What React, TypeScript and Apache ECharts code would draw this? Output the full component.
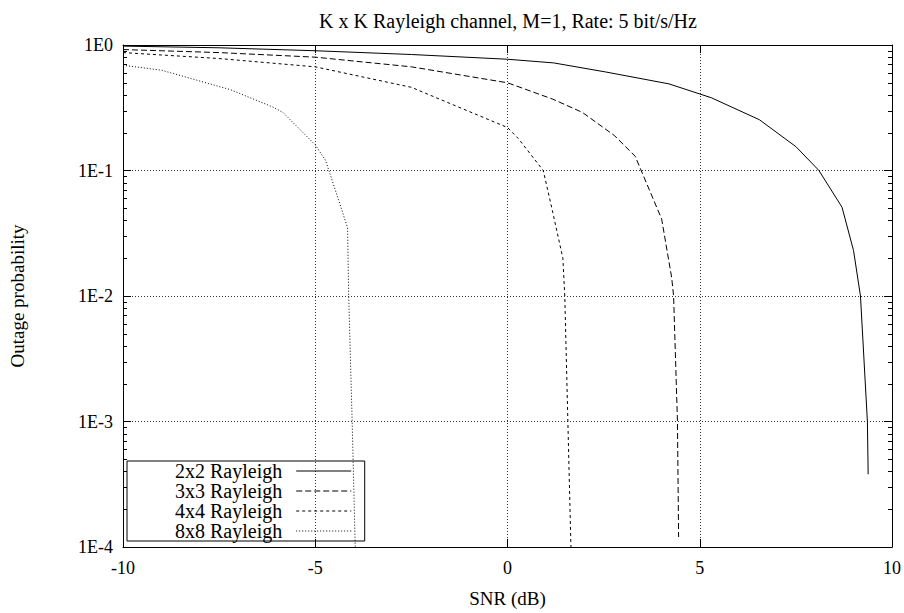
import React, { useEffect, useRef } from "react";
import * as echarts from "echarts";

const seriesNames = ["2x2 Rayleigh", "3x3 Rayleigh", "4x4 Rayleigh", "8x8 Rayleigh"];

const snr2x2 = [-10, -7.5, -5, -2.5, 0, 1.2, 2.55, 4.2, 5.3, 6.55, 7.5, 8.1, 8.7, 9.0, 9.18, 9.36, 9.38];
const out2x2 = [0.98, 0.95, 0.9, 0.84, 0.77, 0.72, 0.61, 0.49, 0.38, 0.254, 0.155, 0.1, 0.051, 0.023, 0.01, 0.001, 0.00038];

const snr3x3 = [-10, -7.5, -5, -2.5, 0, 1.18, 1.95, 2.78, 3.32, 4.01, 4.27, 4.32, 4.42, 4.45];
const out3x3 = [0.92, 0.87, 0.8, 0.67, 0.5, 0.37, 0.29, 0.19, 0.13, 0.041, 0.014, 0.01, 0.001, 0.00012];

const snr4x4 = [-10, -7.5, -5, -2.5, 0, 0.28, 0.93, 1.18, 1.44, 1.49, 1.57, 1.65];
const out4x4 = [0.87, 0.78, 0.67, 0.46, 0.22, 0.18, 0.1, 0.046, 0.02, 0.01, 0.001, 0.0001];

const snr8x8 = [-10, -9, -7.2, -6.1, -5.84, -5, -4.73, -4.4, -4.16, -4.13, -4.04, -3.96];
const out8x8 = [0.69, 0.63, 0.44, 0.32, 0.29, 0.16, 0.12, 0.059, 0.035, 0.01, 0.001, 0.0001];

const xTicks = [-10, -5, 0, 5, 10];
const yMin = 1e-4;
const yMax = 1;
const minorTickValues: number[] = [];
for (let e = -4; e < 0; e++) {
  for (let m = 2; m <= 9; m++) {
    minorTickValues.push(m * Math.pow(10, e));
  }
}

const zip = (xs: number[], ys: number[]) => xs.map((x, i) => [x, ys[i]]);

const FONT = "'Liberation Serif', 'Times New Roman', serif";

export default function App() {
  const ref = useRef<HTMLDivElement>(null);
  useEffect(() => {
    document.body.style.margin = "0";
    if (!ref.current) return;
    const chart = echarts.init(ref.current, undefined, { renderer: "svg" });
    const dashes: any[] = ["solid", [6, 3], [3, 3], [1, 2]];
    const dataSets = [
      zip(snr2x2, out2x2),
      zip(snr3x3, out3x3),
      zip(snr4x4, out4x4),
      zip(snr8x8, out8x8),
    ];
    const lineSeries = seriesNames.map((name, i) => ({
      name,
      type: "line",
      data: dataSets[i],
      symbol: "none",
      showSymbol: false,
      lineStyle: { color: "#000", width: 1, type: dashes[i] },
      itemStyle: { color: "#000" },
      z: 5,
    }));
    const axisCommon = {
      axisLine: { show: true, onZero: false, lineStyle: { color: "#000", width: 1 } },
      axisTick: { show: true, inside: true, length: 8, lineStyle: { color: "#000" } },
    };
    const option: any = {
      animation: false,
      backgroundColor: "#fff",
      title: {
        text: "K x K Rayleigh channel, M=1, Rate: 5 bit/s/Hz",
        left: 503,
        top: 6,
        textAlign: "center",
        textStyle: { fontFamily: FONT, fontSize: 20, fontWeight: "normal", color: "#000" },
      },
      grid: { left: 115, right: 11, top: 45, bottom: 63, containLabel: false },
      legend: {
        data: seriesNames,
        orient: "vertical",
        align: "right",
        left: 127,
        top: 461,
        itemWidth: 55,
        itemHeight: 10,
        itemGap: 0,
        padding: [0, 13, 0, 48],
        borderColor: "#000",
        borderWidth: 1,
        itemStyle: { opacity: 0, color: "rgba(0,0,0,0)", borderWidth: 0 },
        lineStyle: { width: 1 },
        textStyle: { fontFamily: FONT, fontSize: 20, color: "#000", lineHeight: 20, padding: [0, 9, 0, 0] },
      },
      xAxis: [
        {
          type: "value",
          min: -10,
          max: 10,
          interval: 5,
          name: "SNR (dB)",
          nameLocation: "middle",
          nameGap: 42,
          nameTextStyle: { fontFamily: FONT, fontSize: 19, color: "#000" },
          ...axisCommon,
          axisLabel: { fontFamily: FONT, fontSize: 18, color: "#000", margin: 12, formatter: (v: number) => (xTicks.includes(v) ? String(v) : "") },
          splitLine: { show: true, lineStyle: { color: "#333", width: 1, type: [1, 2] } },
        },
        {
          type: "value",
          position: "top",
          min: -10,
          max: 10,
          interval: 5,
          ...axisCommon,
          axisLabel: { show: false },
          splitLine: { show: false },
        },
      ],
      yAxis: [
        {
          type: "log",
          logBase: 10,
          min: yMin,
          max: yMax,
          name: "Outage probability",
          nameLocation: "middle",
          nameGap: 96,
          nameRotate: 90,
          nameTextStyle: { fontFamily: FONT, fontSize: 19, color: "#000" },
          ...axisCommon,
          axisLabel: {
            fontFamily: FONT,
            fontSize: 18,
            color: "#000",
            margin: 10,
            formatter: (v: number) => "1E" + Math.round(Math.log10(v)),
          },
          splitLine: { show: true, lineStyle: { color: "#333", width: 1, type: [1, 2] } },
        },
        {
          type: "log",
          logBase: 10,
          min: yMin,
          max: yMax,
          position: "right",
          ...axisCommon,
          axisLabel: { show: false },
          splitLine: { show: false },
        },
      ],
      series: [
        ...lineSeries,
        {
          type: "custom",
          silent: true,
          data: minorTickValues.map((v) => [-10, v]),
          encode: { x: 0, y: 1 },
          z: 3,
          renderItem: (params: any, api: any) => {
            const v = api.value(1);
            const pL = api.coord([-10, v]);
            const pR = api.coord([10, v]);
            const y = Math.round(pL[1]) + 0.5;
            return {
              type: "group",
              children: [
                { type: "line", shape: { x1: pL[0], y1: y, x2: pL[0] + 4, y2: y }, style: { stroke: "#000", lineWidth: 1 } },
                { type: "line", shape: { x1: pR[0] - 4, y1: y, x2: pR[0], y2: y }, style: { stroke: "#000", lineWidth: 1 } },
              ],
            };
          },
        },
      ],
    };
    chart.setOption(option);
    return () => chart.dispose();
  }, []);
  return <div ref={ref} style={{ width: 904, height: 613 }} />;
}
